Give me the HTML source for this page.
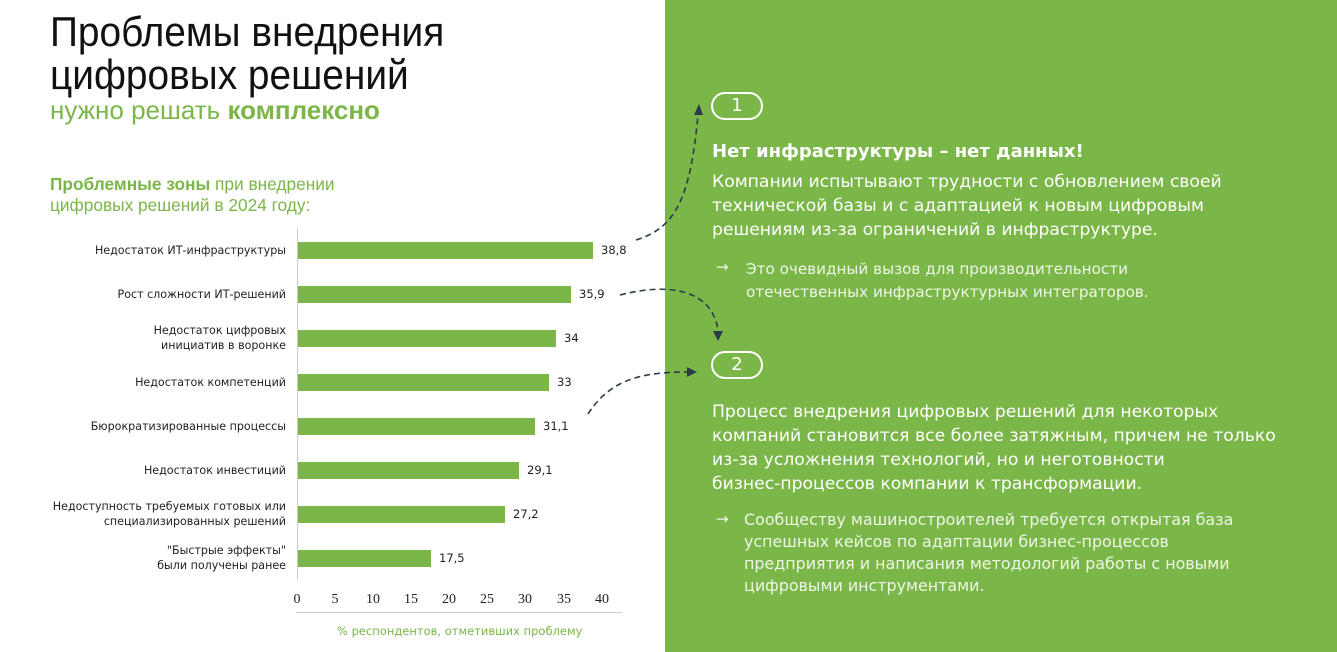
<!DOCTYPE html>
<html><head><meta charset="utf-8"><style>
body{margin:0;width:1337px;height:652px;position:relative;background:#fff;overflow:hidden;font-family:"DejaVu Sans",sans-serif}
.abs{position:absolute;white-space:nowrap}
.t{font-family:"Liberation Sans",sans-serif;font-size:42px;color:#111;transform-origin:0 0;transform:scaleX(0.925);line-height:43px}
.lab{font-size:11.1px;color:#222;text-align:right;right:1051px;line-height:15px}
.bar{position:absolute;left:298px;height:17px;background:#7ab648}
.val{font-size:11.5px;color:#222}
.tk{font-family:"Liberation Serif",serif;font-size:14px;color:#222;width:30px;text-align:center}
.g{position:absolute;left:665px;top:0;width:672px;height:652px;background:#7ab648}
.w{color:#fff;font-size:17.2px;line-height:24px}
.pill{position:absolute;width:48px;height:24px;border:2px solid #fff;border-radius:14px;color:#fff;font-size:18px;text-align:center;line-height:24px}
.b{color:#eef6e6;font-size:15.2px}
</style></head><body>
<div class="abs t" style="left:50px;top:10px">Проблемы внедрения<br>цифровых решений</div>
<div class="abs" style="left:50px;top:95px;font-family:'Liberation Sans',sans-serif;font-size:26px;color:#7ab648">нужно решать <b>комплексно</b></div>
<div class="abs" style="left:50px;top:174px;font-family:'Liberation Sans',sans-serif;font-size:17.3px;color:#7ab648;line-height:21px"><b>Проблемные зоны</b> при внедрении<br>цифровых решений в 2024 году:</div>

<div style="position:absolute;left:297px;top:228px;width:1px;height:352px;background:#ccc"></div>

<div class="abs lab" style="top:243px">Недостаток ИТ-инфраструктуры</div>
<div class="abs lab" style="top:287px">Рост сложности ИТ-решений</div>
<div class="abs lab" style="top:323px">Недостаток цифровых<br>инициатив в воронке</div>
<div class="abs lab" style="top:375px">Недостаток компетенций</div>
<div class="abs lab" style="top:419px">Бюрократизированные процессы</div>
<div class="abs lab" style="top:463px">Недостаток инвестиций</div>
<div class="abs lab" style="top:499px">Недоступность требуемых готовых или<br>специализированных решений</div>
<div class="abs lab" style="top:543px">"Быстрые эффекты"<br>были получены ранее</div>

<div class="bar" style="top:242px;width:295px"></div><div class="abs val" style="left:601px;top:243px">38,8</div>
<div class="bar" style="top:286px;width:273px"></div><div class="abs val" style="left:579px;top:287px">35,9</div>
<div class="bar" style="top:330px;width:258px"></div><div class="abs val" style="left:564px;top:331px">34</div>
<div class="bar" style="top:374px;width:251px"></div><div class="abs val" style="left:557px;top:375px">33</div>
<div class="bar" style="top:418px;width:237px"></div><div class="abs val" style="left:543px;top:419px">31,1</div>
<div class="bar" style="top:462px;width:221px"></div><div class="abs val" style="left:527px;top:463px">29,1</div>
<div class="bar" style="top:506px;width:207px"></div><div class="abs val" style="left:513px;top:507px">27,2</div>
<div class="bar" style="top:550px;width:133px"></div><div class="abs val" style="left:439px;top:551px">17,5</div>

<div class="abs tk" style="left:282px;top:592px">0</div>
<div class="abs tk" style="left:320px;top:592px">5</div>
<div class="abs tk" style="left:358px;top:592px">10</div>
<div class="abs tk" style="left:396px;top:592px">15</div>
<div class="abs tk" style="left:434px;top:592px">20</div>
<div class="abs tk" style="left:472px;top:592px">25</div>
<div class="abs tk" style="left:510px;top:592px">30</div>
<div class="abs tk" style="left:549px;top:592px">35</div>
<div class="abs tk" style="left:587px;top:592px">40</div>
<div style="position:absolute;left:296px;top:612px;width:326px;height:1px;background:#ccc"></div>
<div class="abs" style="left:337px;top:624px;font-size:11.5px;color:#7ab648">% респондентов, отметивших проблему</div>

<div class="g"></div>
<div class="pill" style="left:711px;top:92px">1</div>
<div class="pill" style="left:711px;top:351px">2</div>
<div class="abs" style="left:712px;top:141px;color:#fff;font-size:18px;font-weight:bold">Нет инфраструктуры – нет данных!</div>
<div class="abs w" style="left:712px;top:170px">Компании испытывают трудности с обновлением своей<br>технической базы и с адаптацией к новым цифровым<br>решениям из-за ограничений в инфраструктуре.</div>
<div class="abs b" style="left:716px;top:258px">→</div>
<div class="abs b" style="left:746px;top:258px;line-height:23px">Это очевидный вызов для производительности<br>отечественных инфраструктурных интеграторов.</div>
<div class="abs w" style="left:712px;top:400px">Процесс внедрения цифровых решений для некоторых<br>компаний становится все более затяжным, причем не только<br>из-за усложнения технологий, но и неготовности<br>бизнес-процессов компании к трансформации.</div>
<div class="abs b" style="left:716px;top:510px">→</div>
<div class="abs b" style="left:744px;top:509px;line-height:22px;font-size:15.9px">Сообществу машиностроителей требуется открытая база<br>успешных кейсов по адаптации бизнес-процессов<br>предприятия и написания методологий работы с новыми<br>цифровыми инструментами.</div>

<svg style="position:absolute;left:0;top:0" width="1337" height="652">
<g fill="none" stroke="#2d3a4a" stroke-width="1.6" stroke-dasharray="6,4">
<path d="M636 240 C675 228 690 200 698 115"/>
<path d="M620 295 C670 282 712 290 718 330"/>
<path d="M588 414 C610 380 640 372 688 372"/>
</g>
<g fill="#2d3a4a">
<polygon points="699,104 694,115 703,115"/>
<polygon points="718,341 713,331 723,331"/>
<polygon points="697,372 687,367 687,377"/>
</g>
</svg>
</body></html>
